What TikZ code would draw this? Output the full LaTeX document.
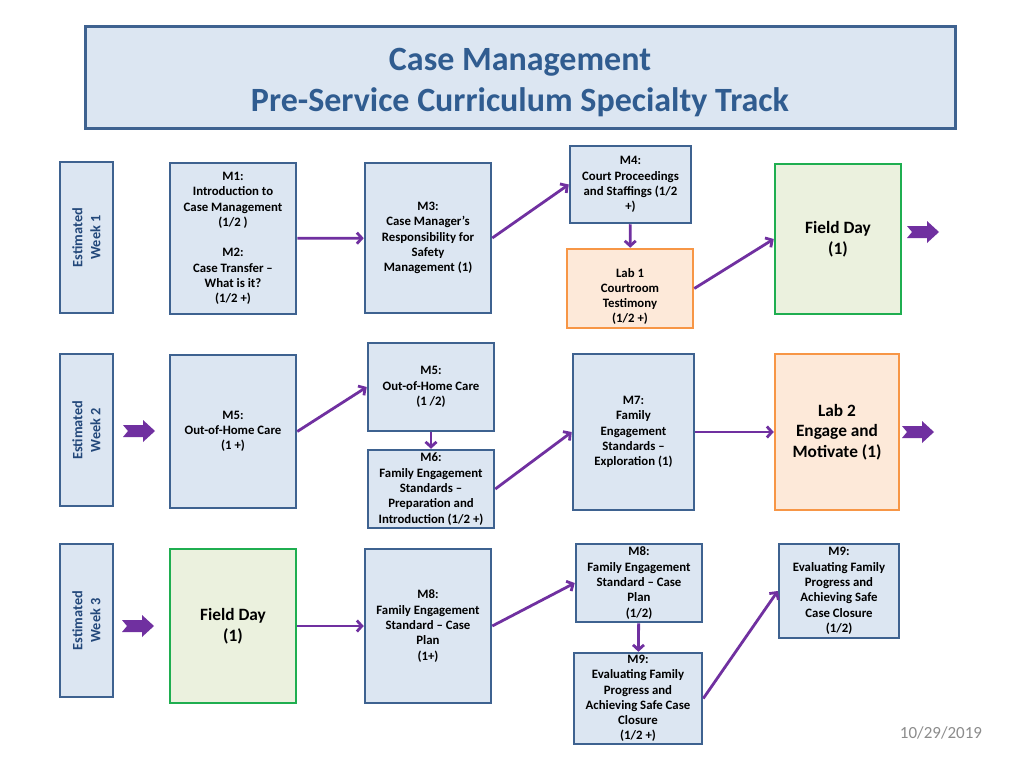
\documentclass[tikz,border=0pt]{standalone}
\usepackage{fontspec}
\setmainfont{Carlito}
\usepackage{xcolor}
\usepackage{tikz}
\usetikzlibrary{arrows.meta, positioning}

\definecolor{boxfill}{HTML}{DCE6F2}
\definecolor{boxline}{HTML}{3E6290}
\definecolor{titleblue}{HTML}{305C90}
\definecolor{weekblue}{HTML}{23487A}
\definecolor{labfill}{HTML}{FDE9D9}
\definecolor{labline}{HTML}{F79646}
\definecolor{fieldfill}{HTML}{EBF1DE}
\definecolor{fieldline}{HTML}{1FAE50}
\definecolor{flowpurple}{HTML}{7030A0}
\definecolor{dategray}{HTML}{8C8C8C}

\begin{document}
\begin{tikzpicture}[
    x=1pt, y=-1pt,
    module/.style={rectangle, draw=boxline, line width=2.5pt, fill=boxfill, inner sep=0pt, align=center, font=\bfseries\fontsize{12.8}{15.3}\selectfont},
    lab/.style={module, draw=labline, fill=labfill},
    field/.style={module, draw=fieldline, fill=fieldfill},
    bigtext/.style={font=\bfseries\fontsize{17.3}{20.5}\selectfont},
    week/.style={module, rotate=90, minimum width=#1, minimum height=53pt, text=weekblue, font=\bfseries\fontsize{14.3}{18}\selectfont},
    line/.style={draw=flowpurple, line width=2.8pt, -{Straight Barb[length=5pt, width=11pt]}},
    fat/.style={fill=flowpurple},
]
\fill[white] (0,0) rectangle (1024,768);
\useasboundingbox (0,0) rectangle (1024,768);

% title
\node [module, line width=3pt, minimum width=870pt, minimum height=101pt, text=titleblue, font=\bfseries\fontsize{34}{41}\selectfont] (title) at (520,77.5) {\rule{0pt}{33pt}Case Management\\Pre-Service Curriculum Specialty Track};

% week 1
\node [week=151pt] (week1) at (86.5,237.5) {Estimated\\Week 1};
\node [module, minimum width=126pt, minimum height=151pt] (m12) at (233,238.5) {M1:\\Introduction to\\Case Management\\(1/2 )\\[15pt]M2:\\Case Transfer --\\What is it?\\(1/2 +)};
\node [module, minimum width=126pt, minimum height=150pt] (m3) at (428,238) {M3:\\Case Manager's\\Responsibility for\\Safety\\Management (1)};
\node [module, minimum width=121pt, minimum height=77pt] (m4) at (630.5,184.5) {M4:\\Court Proceedings\\and Staffings (1/2\\+)};
\node [lab, minimum width=126pt, minimum height=79pt] (lab1) at (630,288.5) {\rule{0pt}{25pt}Lab 1\\Courtroom\\Testimony\\(1/2 +)};
\node [field, minimum width=126pt, minimum height=150pt, bigtext] (field1) at (838,239) {Field Day\\(1)};

% week 2
\node [week=152pt] (week2) at (86.5,430) {Estimated\\Week 2};
\node [module, minimum width=126pt, minimum height=153pt] (m5a) at (233,431.5) {M5:\\Out-of-Home Care\\(1 +)};
\node [module, minimum width=126pt, minimum height=88pt] (m5b) at (431,387) {M5:\\Out-of-Home Care\\(1 /2)};
\node [module, minimum width=126pt, minimum height=78pt] (m6) at (431,489) {M6:\\Family Engagement\\Standards --\\Preparation and\\Introduction (1/2 +)};
\node [module, minimum width=121pt, minimum height=156pt] (m7) at (633.5,432) {M7:\\Family\\Engagement\\Standards --\\Exploration (1)};
\node [lab, minimum width=124pt, minimum height=156pt, bigtext] (lab2) at (837,432) {Lab 2\\Engage and\\Motivate (1)};

% week 3
\node [week=153pt] (week3) at (86.5,620.5) {Estimated\\Week 3};
\node [field, minimum width=126pt, minimum height=154pt, bigtext] (field3) at (233,626) {Field Day\\(1)};
\node [module, minimum width=126pt, minimum height=154pt] (m8a) at (428,626) {M8:\\Family Engagement\\Standard -- Case\\Plan\\(1+)};
\node [module, minimum width=126pt, minimum height=78pt] (m8b) at (639,583) {M8:\\Family Engagement\\Standard -- Case\\Plan\\(1/2)};
\node [module, minimum width=128pt, minimum height=91pt] (m9a) at (638,698.5) {M9:\\Evaluating Family\\Progress and\\Achieving Safe Case\\Closure\\(1/2 +)};
\node [module, minimum width=120pt, minimum height=94pt] (m9b) at (839,591) {M9:\\Evaluating Family\\Progress and\\Achieving Safe\\Case Closure\\(1/2)};

\node [text=dategray, font=\fontsize{17}{20}\selectfont] (date) at (941,733) {10/29/2019};

% flow
\path [line] (m12) -- (m3);
\path [line] (m3.east) -- (m4.west);
\path [line] (m4) -- (lab1);
\path [line] (lab1.east) -- (field1.west);
\path [line] (m5a.east) -- (m5b.west);
\path [line] (m5b) -- (m6);
\path [line] (m6.east) -- (m7.west);
\path [line] (m7) -- (lab2);
\path [line] (field3) -- (m8a);
\path [line] (m8a.east) -- (m8b.west);
\path [line] (m8b) -- (m9a);
\path [line] (m9a.east) -- (m9b.west);

% week-to-week arrows
\foreach \x/\y in {907/232, 123/431, 902/432, 122/626}
    \fill [fat] (\x,\y-6) -- (\x+20,\y-6) -- (\x+20,\y-11) -- (\x+32,\y) -- (\x+20,\y+11) -- (\x+20,\y+6) -- (\x,\y+6) -- (\x+5,\y) -- cycle;
\end{tikzpicture}
\end{document}
